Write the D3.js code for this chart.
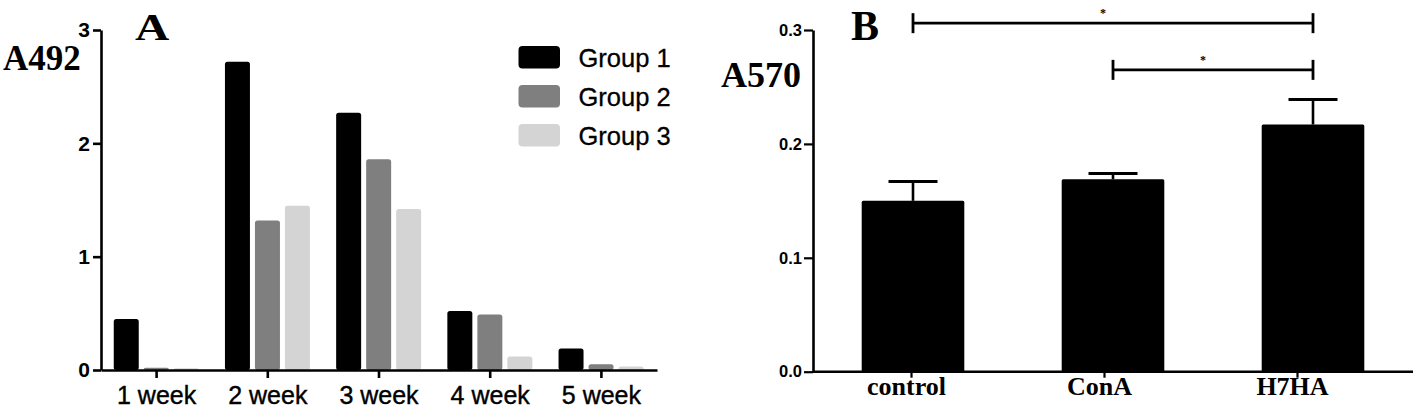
<!DOCTYPE html>
<html>
<head>
<meta charset="utf-8">
<title>A492 / A570</title>
<script src="https://cdn.jsdelivr.net/npm/d3@7"></script>
<style>
  body { margin: 0; background: #fff; }
  svg { display: block; }
  .sans { font-family: "Liberation Sans", Arial, Helvetica, sans-serif; }
  .serif { font-family: "Liberation Serif", "Times New Roman", serif; font-weight: bold; }
</style>
</head>
<body>
<svg id="fig" width="1418" height="414"></svg>
<script>
// panel A data
const weeks = ["1 week", "2 week", "3 week", "4 week", "5 week"];
const groups = ["Group 1", "Group 2", "Group 3"];
const group1 = [0.45, 2.72, 2.27, 0.52, 0.19];
const group2 = [0.02, 1.32, 1.86, 0.49, 0.05];
const group3 = [0.015, 1.45, 1.42, 0.12, 0.03];
const groupColors = ["#000000", "#7f7f7f", "#d4d4d4"];
const yTicksA = [0, 1, 2, 3];

// panel B data
const treatments = ["control", "ConA", "H7HA"];
const means = [0.150, 0.169, 0.217];
const sem = [0.017, 0.005, 0.022];
const yTicksB = [0.0, 0.1, 0.2, 0.3];
const brackets = [
  {from: "control", to: "H7HA", y: 0.306, label: "*"},
  {from: "ConA", to: "H7HA", y: 0.265, label: "*"}
];

const svg = d3.select("#fig");
svg.append("rect").attr("width", 1418).attr("height", 414).attr("fill", "#fff");

// ---------------- panel A ----------------
let yA = d3.scaleLinear().domain([0, 3]).range([370, 30]);
let xA = d3.scaleBand().domain(weeks).range([101, 657]);
let xInner = d3.scaleBand().domain(groups).range([12.75, 97.75]).paddingInner(0.167);

let seriesA = [group1, group2, group3];
let rowsA = [];
weeks.forEach((w, i) => groups.forEach((g, j) => rowsA.push({week: w, group: g, gi: j, v: seriesA[j][i]})));

let gA = svg.append("g");
gA.selectAll("rect.bar")
  .data(rowsA)
  .join("rect")
    .attr("class", "bar")
    .attr("x", d => xA(d.week) + xInner(d.group))
    .attr("y", d => yA(d.v))
    .attr("width", xInner.bandwidth())
    .attr("height", d => yA(0) - yA(d.v))
    .attr("rx", 2.5)
    .attr("fill", d => groupColors[d.gi]);

let axA_y = gA.append("g")
  .attr("transform", "translate(101,0)")
  .call(d3.axisLeft(yA).tickValues(yTicksA).tickFormat(d3.format("d")).tickSize(8).tickSizeOuter(0).tickPadding(3));
axA_y.selectAll("text").attr("class", "sans").style("font-size", "21px").style("font-weight", "bold").attr("fill", "#000");

let axA_x = gA.append("g")
  .attr("transform", "translate(0,370)")
  .call(d3.axisBottom(xA).tickSize(8).tickSizeOuter(0).tickPadding(8));
axA_x.selectAll("text").attr("class", "sans").style("font-size", "25px")
  .attr("fill", "#000").attr("stroke", "#000").attr("stroke-width", 0.4);

[axA_y, axA_x].forEach(a => {
  a.select(".domain").attr("stroke", "#000").attr("stroke-width", 2.6);
  a.selectAll(".tick line").attr("stroke", "#000").attr("stroke-width", 2.6);
});

// legend
let leg = gA.append("g").attr("transform", "translate(518.5,46)");
let li = leg.selectAll("g").data(groups).join("g").attr("transform", (d, i) => `translate(0,${i * 39})`);
li.append("rect").attr("width", 41.5).attr("height", 22.5).attr("rx", 4)
  .attr("fill", (d, i) => groupColors[i]);
li.append("text").attr("class", "sans").attr("x", 60).attr("y", 20.5)
  .style("font-size", "25.5px").attr("fill", "#000").attr("stroke", "#000").attr("stroke-width", 0.3)
  .text(d => d);

gA.append("text").attr("class", "serif").attr("x", 3).attr("y", 70).style("font-size", "35px").text("A492");
gA.append("text").attr("class", "serif").attr("x", 135).attr("y", 40).style("font-size", "38px")
  .attr("transform", "translate(135,0) scale(1.25,1) translate(-135,0)").text("A");

// ---------------- panel B ----------------
let yB = d3.scaleLinear().domain([0, 0.3]).range([371.7, 30]);
let xB = d3.scaleBand().domain(treatments).range([813, 1413]).paddingInner(0.487).paddingOuter(0.2435);
let xLab = d3.scaleBand().domain(treatments).range([815, 1394]);

let rowsB = treatments.map((t, i) => ({t: t, m: means[i], e: sem[i]}));
let gB = svg.append("g");

gB.selectAll("rect.bar")
  .data(rowsB)
  .join("rect")
    .attr("class", "bar")
    .attr("x", d => xB(d.t))
    .attr("y", d => yB(d.m))
    .attr("width", xB.bandwidth())
    .attr("height", d => yB(0) - yB(d.m))
    .attr("rx", 1.5)
    .attr("fill", "#000");

let cx = d => xB(d.t) + xB.bandwidth() / 2;
gB.selectAll("line.stem").data(rowsB).join("line").attr("class", "stem")
  .attr("x1", cx).attr("x2", cx)
  .attr("y1", d => yB(d.m)).attr("y2", d => yB(d.m + d.e))
  .attr("stroke", "#000").attr("stroke-width", 2.6);
gB.selectAll("line.cap").data(rowsB).join("line").attr("class", "cap")
  .attr("x1", d => cx(d) - 24.5).attr("x2", d => cx(d) + 24.5)
  .attr("y1", d => yB(d.m + d.e)).attr("y2", d => yB(d.m + d.e))
  .attr("stroke", "#000").attr("stroke-width", 2.8);

let axB_y = gB.append("g")
  .attr("transform", "translate(813,0)")
  .call(d3.axisLeft(yB).tickValues(yTicksB).tickFormat(d3.format(".1f")).tickSize(9).tickSizeOuter(0).tickPadding(2));
axB_y.selectAll("text").attr("class", "sans").style("font-size", "16.5px").style("font-weight", "bold").attr("fill", "#000");

let axB_x = gB.append("g")
  .attr("transform", "translate(0,371.7)")
  .call(d3.axisBottom(xLab).tickSize(6).tickSizeOuter(0).tickFormat(""));
axB_x.select(".domain").attr("d", "M813,0H1413");
axB_x.selectAll(".tick").append("text")
  .attr("class", "serif").attr("x", -5).attr("y", 23.5)
  .attr("text-anchor", "middle").style("font-size", "26px").attr("fill", "#000")
  .text(d => d);

[axB_y, axB_x].forEach(a => {
  a.select(".domain").attr("stroke", "#000").attr("stroke-width", 2.6);
  a.selectAll(".tick line").attr("stroke", "#000").attr("stroke-width", 2.2);
});

gB.append("text").attr("class", "serif").attr("x", 721).attr("y", 87).style("font-size", "36px").text("A570");
gB.append("text").attr("class", "serif").attr("x", 851).attr("y", 40).style("font-size", "42px").text("B");

// significance brackets
let bg = gB.selectAll("g.br").data(brackets).join("g").attr("class", "br");
bg.append("line")
  .attr("x1", d => xB(d.from) + xB.bandwidth() / 2).attr("x2", d => xB(d.to) + xB.bandwidth() / 2)
  .attr("y1", d => yB(d.y)).attr("y2", d => yB(d.y))
  .attr("stroke", "#000").attr("stroke-width", 2.8);
["from", "to"].forEach(k => {
  bg.append("line")
    .attr("x1", d => xB(d[k]) + xB.bandwidth() / 2).attr("x2", d => xB(d[k]) + xB.bandwidth() / 2)
    .attr("y1", d => yB(d.y) - 10).attr("y2", d => yB(d.y) + 10)
    .attr("stroke", "#000").attr("stroke-width", 2.8);
});
bg.append("text").attr("class", "serif")
  .attr("x", d => (xB(d.from) + xB(d.to) + xB.bandwidth()) / 2 - 10)
  .attr("y", d => yB(d.y) - 6)
  .attr("text-anchor", "middle").style("font-size", "12px")
  .text(d => d.label);
</script>
</body>
</html>
